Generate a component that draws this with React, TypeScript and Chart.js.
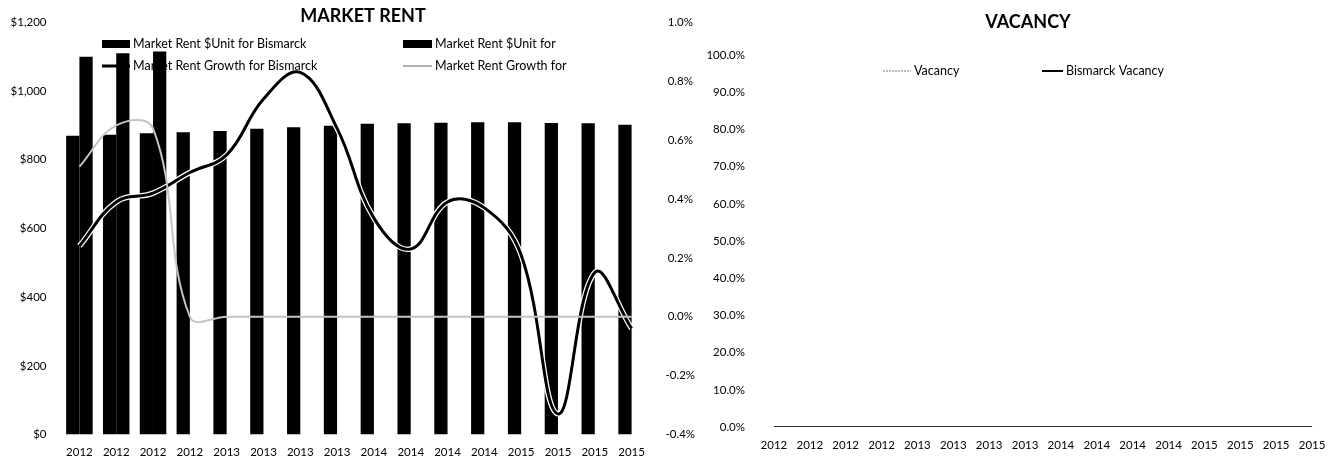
import React, { useEffect, useRef } from 'react';
import { Chart, registerables } from 'chart.js';

Chart.register(...registerables);

// ---------- data ----------
const categories = ['2012', '2012', '2012', '2012', '2013', '2013', '2013', '2013', '2014', '2014', '2014', '2014', '2015', '2015', '2015', '2015'];
const rentBismarck = [870, 873, 877, 880, 884, 890, 895, 899, 905, 906, 908, 909, 909, 907, 906, 902];
const rentMarket = [1100, 1110, 1115, null, null, null, null, null, null, null, null, null, null, null, null, null];
const growthBismarck = [0.24, 0.39, 0.42, 0.49, 0.55, 0.74, 0.83, 0.64, 0.335, 0.23, 0.39, 0.37, 0.21, -0.33, 0.15, -0.04];
const growthMarket = [0.51, 0.65, 0.64, 0.0, 0.0, 0.0, 0.0, 0.0, 0.0, 0.0, 0.0, 0.0, 0.0, 0.0, 0.0, 0.0];
const vacancy = [0, 0, 0, 0, 0, 0, 0, 0, 0, 0, 0, 0, 0, 0, 0, 0];
const bismarckVacancy = [0, 0, 0, 0, 0, 0, 0, 0, 0, 0, 0, 0, 0, 0, 0, 0];
const rentTicks = [0, 200, 400, 600, 800, 1000, 1200];
const growthTicks = [-0.4, -0.2, 0, 0.2, 0.4, 0.6, 0.8, 1.0];
const vacancyTicks = [0, 10, 20, 30, 40, 50, 60, 70, 80, 90, 100];
const rentTitle = 'MARKET RENT';
const vacancyTitle = 'VACANCY';

const FONT = 'Lato, "Open Sans", sans-serif';
const tickFont = { family: FONT, size: 11.5 };

type LegendSpec = { ds: number; kind: 'bar' | 'line'; x: number; y: number; w: number; lw?: number; dash?: number[]; color?: string };

function overlayPlugin(id: string, title: { text: string; x: number; y: number }, items: LegendSpec[]) {
  return {
    id,
    afterDraw(chart: any) {
      const ctx = chart.ctx as CanvasRenderingContext2D;
      ctx.save();
      ctx.fillStyle = '#000';
      ctx.font = `bold 18px ${FONT}`;
      ctx.textAlign = 'center';
      ctx.textBaseline = 'middle';
      ctx.fillText(title.text, title.x, title.y);
      ctx.font = `12.5px ${FONT}`;
      ctx.textAlign = 'left';
      for (const it of items) {
        const ds = chart.data.datasets[it.ds];
        const color = it.color || (it.kind === 'bar' ? ds.backgroundColor : ds.borderColor);
        if (it.kind === 'bar') {
          ctx.fillStyle = color;
          ctx.fillRect(it.x, it.y - 4, it.w, 8);
        } else {
          ctx.strokeStyle = color;
          ctx.lineWidth = it.lw || 2;
          ctx.setLineDash(it.dash || []);
          ctx.beginPath();
          ctx.moveTo(it.x, it.y);
          ctx.lineTo(it.x + it.w, it.y);
          ctx.stroke();
          ctx.setLineDash([]);
        }
        ctx.fillStyle = '#000';
        ctx.fillText(ds.label, it.x + it.w + 3, it.y);
      }
      ctx.restore();
    },
  };
}

function RentChart() {
  const ref = useRef<HTMLCanvasElement>(null);
  useEffect(() => {
    const chart = new Chart(ref.current!, {
      type: 'bar',
      data: {
        labels: categories,
        datasets: [
          {
            type: 'bar',
            label: 'Market Rent $Unit for Bismarck',
            data: rentBismarck,
            backgroundColor: '#000',
            yAxisID: 'y',
            categoryPercentage: 0.72,
            barPercentage: 1,
            order: 10,
          },
          {
            type: 'bar',
            label: 'Market Rent $Unit for',
            data: rentMarket,
            backgroundColor: '#000',
            yAxisID: 'y',
            categoryPercentage: 0.72,
            barPercentage: 1,
            order: 10,
          },
          {
            type: 'line',
            label: 'Market Rent Growth for Bismarck',
            data: growthBismarck,
            borderColor: '#000',
            borderWidth: 3,
            pointRadius: 0,
            tension: 0.4,
            yAxisID: 'y1',
            order: 2,
          },
          {
            type: 'line',
            label: '',
            data: growthBismarck,
            borderColor: '#fff',
            borderWidth: 5.5,
            pointRadius: 0,
            tension: 0.4,
            yAxisID: 'y1',
            order: 3,
          },
          {
            type: 'line',
            label: 'Market Rent Growth for',
            data: growthMarket,
            borderColor: '#c4c4c4',
            borderWidth: 2,
            pointRadius: 0,
            tension: 0.4,
            yAxisID: 'y1',
            order: 1,
          },
        ] as any,
      },
      options: {
        animation: false,
        responsive: false,
        devicePixelRatio: 1,
        layout: { padding: { top: 20, left: 0, right: 0, bottom: 0 } },
        plugins: { legend: { display: false }, title: { display: false }, tooltip: { enabled: false } },
        scales: {
          x: {
            offset: true,
            grid: { display: false, drawTicks: false },
            border: { display: false },
            ticks: { font: tickFont, color: '#000', padding: 11, maxRotation: 0, autoSkip: false },
            afterFit: (s: any) => { s.height = 31.5; },
          },
          y: {
            position: 'left',
            min: rentTicks[0],
            max: rentTicks[rentTicks.length - 1],
            grid: { display: false, drawTicks: false },
            border: { display: false },
            ticks: {
              font: tickFont,
              color: '#000',
              padding: 14.5,
              callback: (v: any) => '$' + Number(v).toLocaleString('en-US'),
            },
            afterBuildTicks: (s: any) => { s.ticks = rentTicks.map((v) => ({ value: v })); },
            afterFit: (s: any) => { s.width = 61; },
          },
          y1: {
            position: 'right',
            min: growthTicks[0],
            max: growthTicks[growthTicks.length - 1],
            grid: { display: false, drawTicks: false },
            border: { display: false },
            ticks: {
              font: tickFont,
              color: '#000',
              padding: 15.5,
              crossAlign: 'center',
              callback: (v: any) => Number(v).toFixed(1) + '%',
            },
            afterBuildTicks: (s: any) => { s.ticks = growthTicks.map((v) => ({ value: v })); },
            afterFit: (s: any) => { s.width = 50; },
          },
        },
      } as any,
      plugins: [
        overlayPlugin('rentOverlay', { text: rentTitle, x: 363, y: 16 }, [
          { ds: 0, kind: 'bar', x: 102, y: 44, w: 28 },
          { ds: 1, kind: 'bar', x: 403, y: 44, w: 29 },
          { ds: 2, kind: 'line', x: 102, y: 66, w: 28, lw: 3 },
          { ds: 4, kind: 'line', x: 403, y: 66, w: 29, lw: 1.5, color: '#9a9a9a' },
        ]),
      ],
    });
    return () => chart.destroy();
  }, []);
  return <canvas ref={ref} width={700} height={466} style={{ position: 'absolute', left: 0, top: 0, width: 700, height: 466 }} />;
}

function VacancyChart() {
  const ref = useRef<HTMLCanvasElement>(null);
  useEffect(() => {
    const chart = new Chart(ref.current!, {
      type: 'line',
      data: {
        labels: categories,
        datasets: [
          {
            label: 'Vacancy',
            data: vacancy,
            borderColor: '#a6a6a6',
            borderWidth: 1.5,
            pointRadius: 0,
            order: 2,
          },
          {
            label: 'Bismarck Vacancy',
            data: bismarckVacancy,
            borderColor: '#000',
            borderWidth: 1.5,
            pointRadius: 0,
            order: 1,
          },
        ],
      },
      options: {
        animation: false,
        responsive: false,
        devicePixelRatio: 1,
        layout: { padding: { top: 55, left: 0, right: 8, bottom: 0 } },
        plugins: { legend: { display: false }, title: { display: false }, tooltip: { enabled: false } },
        scales: {
          x: {
            offset: true,
            grid: { display: false, drawTicks: false },
            border: { display: false },
            ticks: { font: tickFont, color: '#000', padding: 11, maxRotation: 0, autoSkip: false },
            afterFit: (s: any) => { s.height = 39; },
          },
          y: {
            min: vacancyTicks[0],
            max: vacancyTicks[vacancyTicks.length - 1],
            grid: { display: false, drawTicks: false },
            border: { display: false },
            ticks: {
              font: tickFont,
              color: '#000',
              padding: 11,
              callback: (v: any) => Number(v).toFixed(1) + '%',
            },
            afterBuildTicks: (s: any) => { s.ticks = vacancyTicks.map((v) => ({ value: v })); },
            afterFit: (s: any) => { s.width = 66; },
          },
        },
      } as any,
      plugins: [
        overlayPlugin('vacOverlay', { text: vacancyTitle, x: 338, y: 22 }, [
          { ds: 0, kind: 'line', x: 193, y: 71, w: 28, lw: 1.5, dash: [2, 1] },
          { ds: 1, kind: 'line', x: 352, y: 71, w: 21, lw: 2 },
        ]),
      ],
    });
    return () => chart.destroy();
  }, []);
  return <canvas ref={ref} width={648} height={466} style={{ position: 'absolute', left: 690, top: 0, width: 648, height: 466 }} />;
}

export default function App() {
  return (
    <div style={{ position: 'absolute', left: 0, top: 0, width: 1338, height: 466, background: '#fff', overflow: 'hidden' }}>
      <RentChart />
      <VacancyChart />
    </div>
  );
}
